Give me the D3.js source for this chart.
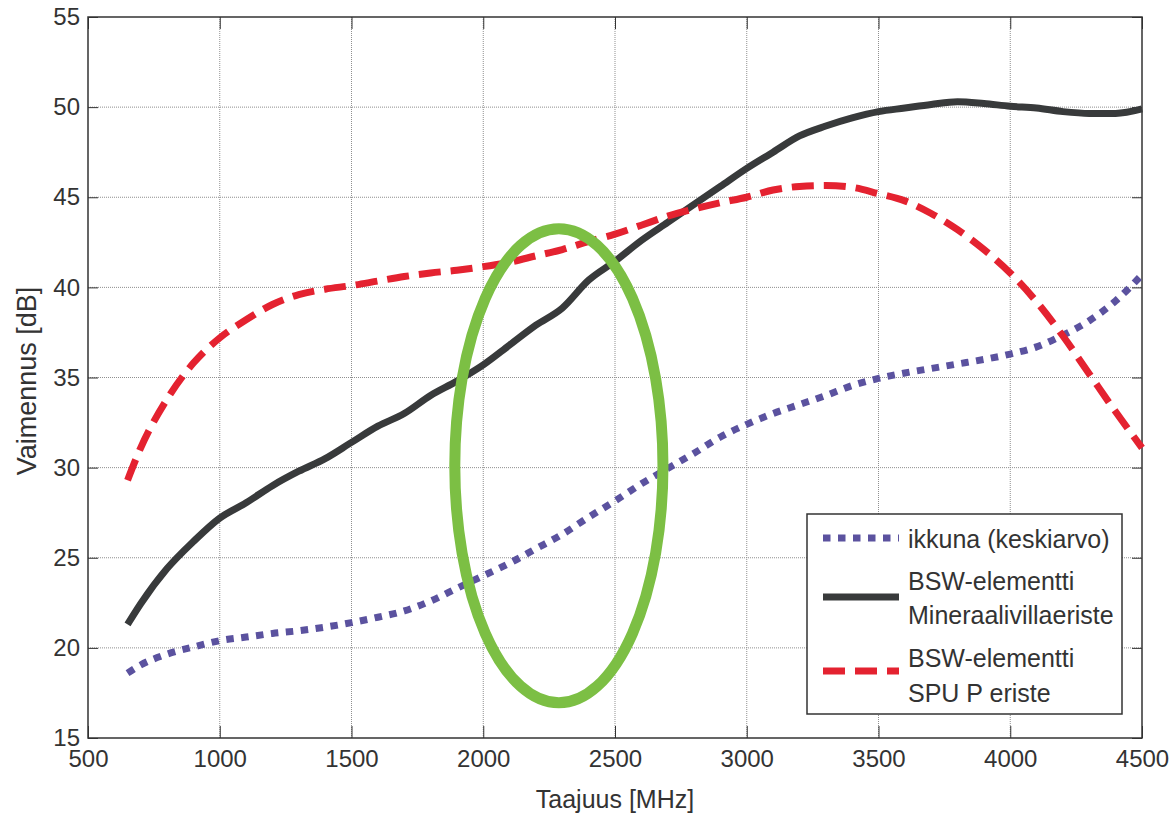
<!DOCTYPE html>
<html>
<head>
<meta charset="utf-8">
<script src="https://cdn.jsdelivr.net/npm/d3@7"></script>
<style>
  body { margin: 0; background: #fff; }
  text { font-family: "Liberation Sans", Arial, sans-serif; fill: #333; }
</style>
</head>
<body>
<div id="container"></div>
<script>
// data
const freq = [650, 700, 800, 900, 1000, 1100, 1200, 1300, 1400, 1500, 1600, 1700, 1800, 1900,
    2000, 2100, 2200, 2300, 2400, 2500, 2600, 2700, 2800, 2900, 3000, 3100, 3200, 3300, 3400,
    3500, 3600, 3700, 3800, 3900, 4000, 4100, 4200, 4300, 4400, 4500];

const ikkuna = [18.6, 19.05, 19.65, 20.05, 20.4, 20.6, 20.8, 20.95, 21.15, 21.4, 21.7, 22.05, 22.6, 23.3,
    24.0, 24.7, 25.5, 26.3, 27.25, 28.15, 29.1, 29.95, 30.8, 31.7, 32.4, 33.0, 33.5, 34.0, 34.55,
    34.95, 35.25, 35.5, 35.75, 36.0, 36.3, 36.7, 37.35, 38.15, 39.25, 40.7];

const mineraalivilla = [21.3, 22.45, 24.4, 25.9, 27.2, 28.05, 29.0, 29.8, 30.5, 31.4, 32.3, 33.0, 34.0, 34.8,
    35.7, 36.8, 37.9, 38.85, 40.4, 41.45, 42.6, 43.6, 44.6, 45.6, 46.6, 47.5, 48.4, 48.95, 49.4,
    49.75, 49.95, 50.15, 50.3, 50.2, 50.05, 49.95, 49.75, 49.65, 49.65, 49.9];

const spuEriste = [29.3, 31.1, 33.8, 35.8, 37.2, 38.2, 39.05, 39.6, 39.9, 40.1, 40.35, 40.6, 40.8, 40.95,
    41.15, 41.4, 41.75, 42.1, 42.55, 42.95, 43.45, 43.95, 44.35, 44.7, 45.0, 45.4, 45.6, 45.65, 45.55,
    45.2, 44.8, 44.1, 43.2, 42.1, 40.8, 39.2, 37.3, 35.2, 33.1, 31.1];

const legendLabels = [
    ["ikkuna (keskiarvo)"],
    ["BSW-elementti", "Mineraalivillaeriste"],
    ["BSW-elementti", "SPU P eriste"]
];

const xTicks = [500, 1000, 1500, 2000, 2500, 3000, 3500, 4000, 4500];
const yTicks = [15, 20, 25, 30, 35, 40, 45, 50, 55];

// highlight ellipse: centre (MHz, dB) and radii
const ellipseCenter = [2287, 30.1];
const ellipseRadius = [395, 13.15];

const W = 1170, H = 816;
const margin = {top: 17, right: 28, bottom: 78, left: 88};
const width = W - margin.left - margin.right,
    height = H - margin.top - margin.bottom;

const svg = d3.select('#container')
    .append('svg')
        .attr('width', W)
        .attr('height', H);

const g = svg.append('g')
    .attr('transform', `translate(${margin.left},${margin.top})`);

const x = d3.scaleLinear().domain([500, 4500]).range([0, width]);
const y = d3.scaleLinear().domain([15, 55]).range([height, 0]);

// grid
g.append('g').selectAll('line')
    .data(xTicks.slice(1, -1))
    .join('line')
        .attr('x1', d => x(d)).attr('x2', d => x(d))
        .attr('y1', 0).attr('y2', height)
        .attr('stroke', '#8f8f8f')
        .attr('stroke-dasharray', '1,1');

g.append('g').selectAll('line')
    .data(yTicks.slice(1, -1))
    .join('line')
        .attr('y1', d => y(d)).attr('y2', d => y(d))
        .attr('x1', 0).attr('x2', width)
        .attr('stroke', '#8f8f8f')
        .attr('stroke-dasharray', '1,1');

// axes, ticks pointing inward like matlab
function styleAxis(sel) {
    sel.select('.domain').remove();
    sel.selectAll('line').attr('stroke', '#333');
    sel.selectAll('text').attr('font-size', 24).attr('fill', '#333')
        .attr('font-family', '"Liberation Sans", Arial, sans-serif');
}

g.append('g')
    .attr('transform', `translate(0,${height})`)
    .call(d3.axisBottom(x).tickValues(xTicks).tickFormat(d3.format('d')).tickSize(-12).tickPadding(12))
    .call(styleAxis);

g.append('g')
    .call(d3.axisLeft(y).tickValues(yTicks).tickFormat(d3.format('d')).tickSize(-10).tickPadding(8))
    .call(styleAxis);

g.append('g')
    .call(d3.axisTop(x).tickValues(xTicks).tickSize(-12).tickFormat(''))
    .call(styleAxis);

g.append('g')
    .attr('transform', `translate(${width},0)`)
    .call(d3.axisRight(y).tickValues(yTicks).tickSize(-10).tickFormat(''))
    .call(styleAxis);

g.append('rect')
    .attr('width', width).attr('height', height)
    .attr('fill', 'none')
    .attr('stroke', '#333')
    .attr('stroke-width', 1.5);

// series
const series = [
    {values: ikkuna, color: '#5b529f', dash: '7.5,7.5'},
    {values: mineraalivilla, color: '#383a3b', dash: null},
    {values: spuEriste, color: '#e42230', dash: '22,10'}
];

const line = d3.line()
    .x((d, i) => x(freq[i]))
    .y(d => y(d))
    .curve(d3.curveMonotoneX);

g.append('g').selectAll('path')
    .data(series)
    .join('path')
        .attr('d', d => line(d.values))
        .attr('fill', 'none')
        .attr('stroke', d => d.color)
        .attr('stroke-width', 7)
        .attr('stroke-dasharray', d => d.dash);

// green ellipse
g.append('ellipse')
    .attr('cx', x(ellipseCenter[0]))
    .attr('cy', y(ellipseCenter[1]))
    .attr('rx', x(ellipseCenter[0] + ellipseRadius[0]) - x(ellipseCenter[0]))
    .attr('ry', y(ellipseCenter[1] - ellipseRadius[1]) - y(ellipseCenter[1]))
    .attr('fill', 'none')
    .attr('stroke', '#7cbf44')
    .attr('stroke-width', 11);

// legend
const legend = svg.append('g').attr('transform', 'translate(807,514)');

legend.append('rect')
    .attr('width', 315).attr('height', 200)
    .attr('fill', '#fff')
    .attr('stroke', '#333')
    .attr('stroke-width', 1.5);

const legendY = [24, 83, 157];
const textY = [[34], [76, 110], [153, 188]];

series.forEach((s, i) => {
    legend.append('line')
        .attr('x1', 16).attr('x2', 92)
        .attr('y1', legendY[i]).attr('y2', legendY[i])
        .attr('stroke', s.color)
        .attr('stroke-width', 7)
        .attr('stroke-dasharray', s.dash);

    legendLabels[i].forEach((t, j) => {
        legend.append('text')
            .attr('x', 101)
            .attr('y', textY[i][j])
            .attr('font-size', 25)
            .text(t);
    });
});

// axis titles
svg.append('text')
    .attr('x', margin.left + width / 2)
    .attr('y', 808)
    .attr('text-anchor', 'middle')
    .attr('font-size', 25)
    .text('Taajuus [MHz]');

svg.append('text')
    .attr('transform', `translate(36,${381}) rotate(-90)`)
    .attr('text-anchor', 'middle')
    .attr('font-size', 27)
    .text('Vaimennus [dB]');
</script>
</body>
</html>
